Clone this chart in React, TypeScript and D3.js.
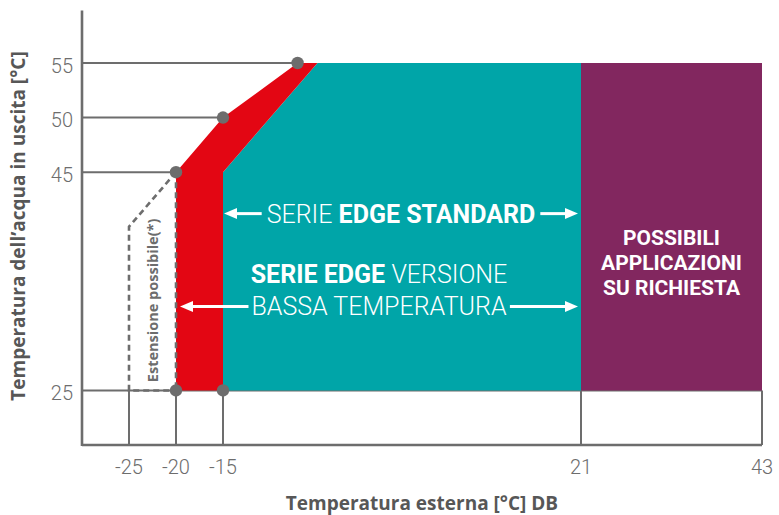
import React, { useEffect, useRef } from "react";
import * as d3 from "d3";

const W = 779;
const H = 515;

// Axis ticks
const xTicks = [-25, -20, -15, 21, 43];
const yTicks = [25, 45, 50, 55];
// horizontal guide line end (x value) for each y tick
const yGuideEnds = [43, -20, -15, -7.5];

// Regions (x = outdoor temp, y = water temp)
const redArea: [number, number][] = [[-20, 25], [-20, 45], [-15, 50], [-7.5, 55], [-5.5, 55], [-15, 45], [-15, 25]];
const tealArea: [number, number][] = [[-15, 25], [-15, 45], [-5.5, 55], [21, 55], [21, 25]];
const purpleArea: [number, number][] = [[21, 25], [21, 55], [43, 55], [43, 25]];
const dashedExt: [number, number][] = [[-20, 45], [-25, 40], [-25, 25], [-20, 25]];
const dashedEdge: [number, number][] = [[-20, 45], [-20, 25]];
const dots: [number, number][] = [[-20, 25], [-15, 25], [-20, 45], [-15, 50], [-7.5, 55]];

// Arrow annotations
const stdArrow = { from: -15, to: 21, y: 41.2 };
const lowArrow = { from: -20, to: 21, y: 32.7 };
const purpleLines = ["POSSIBILI", "APPLICAZIONI", "SU RICHIESTA"];

const RED = "#e30613";
const TEAL = "#00a5a8";
const PURPLE = "#82275f";
const GRAY = "#6d6d6d";
const DARK = "#575757";
const FONT = "Roboto, 'Open Sans', sans-serif";
const FONT_B = "'Open Sans', Roboto, sans-serif";

export default function App() {
  const ref = useRef<SVGSVGElement>(null);

  useEffect(() => {
    const svg = d3.select(ref.current);
    svg.selectAll("*").remove();

    const x = d3.scaleLinear().domain([-30, -15, 21, 43]).range([82, 223, 581, 762]);
    const y = d3.scaleLinear().domain([20, 55]).range([445, 63]);
    const yTop = 59.8;
    const line = d3.line<[number, number]>().x((d) => x(d[0])).y((d) => y(d[1]));

    // horizontal guides
    yTicks.forEach((t, i) => {
      svg.append("line")
        .attr("x1", x(-30)).attr("x2", x(yGuideEnds[i]))
        .attr("y1", y(t)).attr("y2", y(t))
        .attr("stroke", GRAY).attr("stroke-width", 2);
    });
    // vertical guides
    xTicks.forEach((t) => {
      svg.append("line")
        .attr("x1", x(t)).attr("x2", x(t))
        .attr("y1", y(25)).attr("y2", y(20))
        .attr("stroke", GRAY).attr("stroke-width", 2);
    });

    // regions
    svg.append("path").attr("d", line(tealArea) + "Z").attr("fill", TEAL);
    svg.append("path").attr("d", line(purpleArea) + "Z").attr("fill", PURPLE);
    svg.append("path").attr("d", line(redArea) + "Z").attr("fill", RED);

    // dashed extension
    [dashedExt, dashedEdge].forEach((p) => {
      svg.append("path").attr("d", line(p)).attr("fill", "none")
        .attr("stroke", GRAY).attr("stroke-width", 2.6).attr("stroke-dasharray", "6,4");
    });

    // axes
    svg.append("line").attr("x1", x(-30)).attr("x2", x(-30)).attr("y1", y(yTop)).attr("y2", y(20) + 1)
      .attr("stroke", GRAY).attr("stroke-width", 2.6);
    svg.append("line").attr("x1", x(-30)).attr("x2", x(43)).attr("y1", y(20)).attr("y2", y(20))
      .attr("stroke", GRAY).attr("stroke-width", 2.6);

    // dots
    svg.selectAll("circle.dot").data(dots).enter().append("circle")
      .attr("cx", (d) => x(d[0])).attr("cy", (d) => y(d[1])).attr("r", 6.2).attr("fill", GRAY);

    // tick labels
    yTicks.forEach((t) => {
      svg.append("text").attr("x", x(-30) - 9).attr("y", y(t) + 9.5)
        .attr("text-anchor", "end").attr("font-family", FONT).attr("font-weight", 300)
        .attr("font-size", 20).attr("fill", GRAY).text(String(t));
    });
    xTicks.forEach((t) => {
      svg.append("text").attr("x", x(t)).attr("y", y(20) + 29)
        .attr("text-anchor", "middle").attr("font-family", FONT).attr("font-weight", 300)
        .attr("font-size", 20).attr("fill", GRAY).text(String(t));
    });

    // axis titles
    svg.append("text").attr("x", 422).attr("y", 510).attr("text-anchor", "middle")
      .attr("font-family", FONT_B).attr("font-weight", 700).attr("font-size", 19).attr("fill", DARK)
      .text("Temperatura esterna [°C] DB");
    svg.append("text").attr("transform", "translate(25,226) rotate(-90)").attr("text-anchor", "middle")
      .attr("font-family", FONT_B).attr("font-weight", 700).attr("font-size", 19).attr("fill", DARK)
      .text("Temperatura dell’acqua in uscita [°C]");

    // extension label
    svg.append("text").attr("transform", `translate(${x(-22.6) + 6},${y(33.25)}) rotate(-90)`)
      .attr("text-anchor", "middle").attr("font-family", FONT_B).attr("font-weight", 700)
      .attr("font-size", 14.5).attr("fill", GRAY).text("Estensione possibile(*)");

    const arrowHead = (tipX: number, yy: number, dir: number) => {
      svg.append("path")
        .attr("d", `M${tipX},${yy} L${tipX - dir * 13},${yy - 5.5} L${tipX - dir * 13},${yy + 5.5} Z`)
        .attr("fill", "#fff");
    };
    const arrowPair = (x1: number, x2: number, yy: number, bx0: number, bx1: number, gap: number) => {
      svg.append("line").attr("x1", x1 + 8).attr("x2", bx0 - gap).attr("y1", yy).attr("y2", yy)
        .attr("stroke", "#fff").attr("stroke-width", 3);
      svg.append("line").attr("x1", bx1 + gap).attr("x2", x2 - 8).attr("y1", yy).attr("y2", yy)
        .attr("stroke", "#fff").attr("stroke-width", 3);
      arrowHead(x1, yy, -1);
      arrowHead(x2, yy, 1);
    };

    const SZ = 25;
    // standard arrow
    {
      const x1 = x(stdArrow.from) + 1;
      const x2 = x(stdArrow.to) - 3;
      const yy = y(stdArrow.y);
      const t = svg.append("text").attr("x", (x1 + x2) / 2).attr("y", yy + 9).attr("text-anchor", "middle")
        .attr("font-family", FONT).attr("font-size", SZ).attr("fill", "#fff");
      t.append("tspan").attr("font-weight", 300).text("SERIE ");
      t.append("tspan").attr("font-weight", 700).text("EDGE STANDARD");
      const bb = (t.node() as SVGTextElement).getBBox();
      arrowPair(x1, x2, yy, bb.x, bb.x + bb.width, 5);
    }
    // low temperature arrow
    {
      const x1 = x(lowArrow.from) + 4;
      const x2 = x(lowArrow.to) - 3;
      const yy = y(lowArrow.y);
      const cx = (x1 + x2) / 2;
      const t1 = svg.append("text").attr("x", cx).attr("y", yy - 23).attr("text-anchor", "middle")
        .attr("font-family", FONT).attr("font-size", SZ).attr("fill", "#fff");
      t1.append("tspan").attr("font-weight", 700).text("SERIE EDGE ");
      t1.append("tspan").attr("font-weight", 300).text("VERSIONE");
      const t2 = svg.append("text").attr("x", cx).attr("y", yy + 9).attr("text-anchor", "middle")
        .attr("font-family", FONT).attr("font-size", SZ).attr("font-weight", 300).attr("fill", "#fff")
        .text("BASSA TEMPERATURA");
      const bb = (t2.node() as SVGTextElement).getBBox();
      arrowPair(x1, x2, yy, bb.x, bb.x + bb.width, 3);
    }

    // purple label
    const pcx = (x(21) + x(43)) / 2;
    purpleLines.forEach((s, i) => {
      svg.append("text").attr("x", pcx).attr("y", y(38.3) + i * 25).attr("text-anchor", "middle")
        .attr("font-family", FONT).attr("font-weight", 700).attr("font-size", 21).attr("fill", "#fff")
        .text(s);
    });
  }, []);

  return (
    <svg ref={ref} width={W} height={H} style={{ position: "absolute", left: 0, top: 0, background: "#fff" }} />
  );
}
